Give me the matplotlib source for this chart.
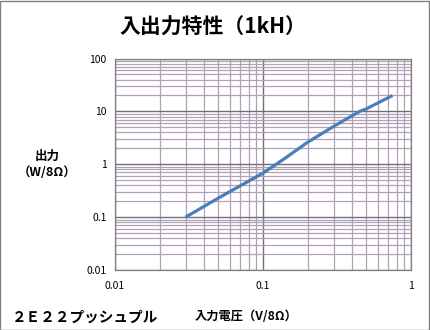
import matplotlib.pyplot as plt
from matplotlib.patches import Rectangle
from matplotlib.ticker import LogLocator, NullFormatter, FixedLocator

plt.rcParams['font.family'] = ['Noto Sans CJK JP', 'DejaVu Sans']

# input voltage (V/8ohm) and output power (W/8ohm)
v_in = [0.03, 0.05, 0.1, 0.137, 0.2, 0.3, 0.45, 0.5, 0.75]
p_out = [0.1, 0.23, 0.68, 1.23, 2.6, 5.2, 10, 11.2, 20]

x_ticks = [0.01, 0.1, 1]
x_labels = ['0.01', '0.1', '1']
y_ticks = [0.01, 0.1, 1, 10, 100]
y_labels = ['0.01', '0.1', '1', '10', '100']

fig = plt.figure(figsize=(4.3, 3.3), dpi=100)
ax = fig.add_axes([0.2674, 0.1818, 0.6884, 0.6409])

ax.plot(v_in, p_out, color='#4a7ebb', lw=2.3, solid_capstyle='butt',
        solid_joinstyle='round')

ax.set_xscale('log')
ax.set_yscale('log')
ax.set_xlim(0.01, 1)
ax.set_ylim(0.01, 100)
ax.xaxis.set_major_locator(FixedLocator(x_ticks))
ax.yaxis.set_major_locator(FixedLocator(y_ticks))
ax.set_xticklabels(x_labels)
ax.set_yticklabels(y_labels)
ax.xaxis.set_minor_locator(LogLocator(base=10, subs=range(2, 10)))
ax.yaxis.set_minor_locator(LogLocator(base=10, subs=range(2, 10)))
ax.xaxis.set_minor_formatter(NullFormatter())
ax.yaxis.set_minor_formatter(NullFormatter())

ax.grid(True, which='minor', color='#b0a0b8', lw=0.9)
ax.grid(True, which='major', color='#707070', lw=1.0)
ax.tick_params(which='both', length=0, labelsize=7.5, colors='black')
ax.tick_params(axis='x', pad=8)
ax.tick_params(axis='y', pad=6)
for s in ax.spines.values():
    s.set_color('#808080')
    s.set_linewidth(0.9)

fig.text(0.494, 0.918, '入出力特性（1kH）', ha='center', va='center',
         fontsize=15, fontweight='bold')
fig.text(0.109, 0.525, '出力', ha='center', va='center', fontsize=9, fontweight='bold')
fig.text(0.109, 0.477, '（W/8Ω）', ha='center', va='center', fontsize=9, fontweight='bold')
fig.text(0.572, 0.040, '入力電圧（V/8Ω）', ha='center', va='center', fontsize=8.8, fontweight='bold')
fig.text(0.028, 0.040, '２Ｅ２２プッシュプル', ha='left', va='center', fontsize=10.5, fontweight='bold')

fig.patches.append(Rectangle((0.001, 0.001), 0.997, 0.997, transform=fig.transFigure,
                             fill=False, edgecolor='#808080', lw=1.0))

fig.savefig('out.png', dpi=100)
